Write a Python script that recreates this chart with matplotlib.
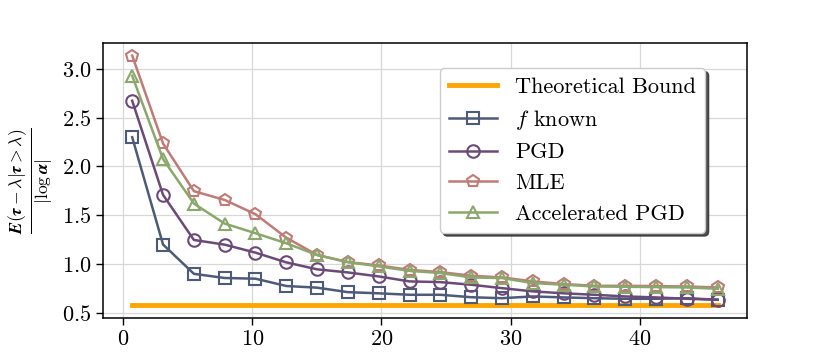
import matplotlib
matplotlib.use('Agg')
import matplotlib.pyplot as plt

plt.rcParams['font.family'] = 'serif'
plt.rcParams['font.serif'] = ['cmr10']
plt.rcParams['mathtext.fontset'] = 'cm'
plt.rcParams['axes.formatter.use_mathtext'] = True

# ---------------------------------------------------------------------
# Data
# ---------------------------------------------------------------------
x = [0.69, 3.08, 5.47, 7.85, 10.24, 12.63, 15.01, 17.40, 19.79, 22.18,
     24.56, 26.95, 29.34, 31.72, 34.11, 36.50, 38.89, 41.27, 43.66, 46.05]

bound = [0.576] * len(x)

f_known = [2.30, 1.20, 0.90, 0.857, 0.85, 0.775, 0.758, 0.712, 0.70, 0.685,
           0.685, 0.66, 0.65, 0.668, 0.658, 0.65, 0.644, 0.644, 0.65, 0.634]
pgd = [2.674, 1.709, 1.247, 1.199, 1.117, 1.017, 0.946, 0.914, 0.873, 0.822,
       0.815, 0.788, 0.753, 0.72, 0.70, 0.685, 0.668, 0.658, 0.644, 0.634]
mle = [3.137, 2.236, 1.747, 1.657, 1.511, 1.27, 1.093, 1.02, 0.986, 0.94,
       0.918, 0.88, 0.863, 0.822, 0.795, 0.777, 0.777, 0.774, 0.77, 0.76]
acc_pgd = [2.93, 2.076, 1.62, 1.415, 1.316, 1.213, 1.093, 1.02, 0.976, 0.93,
           0.908, 0.863, 0.856, 0.805, 0.788, 0.77, 0.767, 0.764, 0.76, 0.747]

series = [
    ('$f$ known', f_known, '#4d5b78', 's'),
    ('PGD', pgd, '#6b4a78', 'o'),
    ('MLE', mle, '#bf7b78', 'p'),
    ('Accelerated PGD', acc_pgd, '#8aa86c', '^'),
]

# ---------------------------------------------------------------------
# Plot
# ---------------------------------------------------------------------
fig = plt.figure(figsize=(8.3, 3.56), dpi=100)
ax = fig.add_axes([0.124, 0.107, 0.776, 0.772])

ax.plot(x, bound, color='orange', lw=3.5, label='Theoretical Bound', zorder=2)
for label, vals, color, marker in series:
    ax.plot(x, vals, color=color, lw=1.8, marker=marker, ms=9,
            markerfacecolor='none', markeredgewidth=1.5, label=label, zorder=3)

ax.grid(True, color='#d8d8d8', lw=0.9)
ax.set_axisbelow(True)
ax.tick_params(labelsize=16, length=5, width=1)
for sp in ax.spines.values():
    sp.set_linewidth(1.1)

ax.set_ylabel(r'$\frac{\boldsymbol{E(\tau-\lambda|\tau>\lambda)}}{\boldsymbol{|\log\alpha|}}$',
              fontsize=18, labelpad=4)

leg = ax.legend(loc='upper right', bbox_to_anchor=(0.935, 0.909), borderaxespad=0,
                fontsize=16, fancybox=True, framealpha=1, edgecolor='#cccccc',
                handlelength=2.2,
                shadow={'color': '#333333', 'alpha': 0.85, 'ox': 2.5, 'oy': -2.5})

fig.savefig('out.png', dpi=100)
